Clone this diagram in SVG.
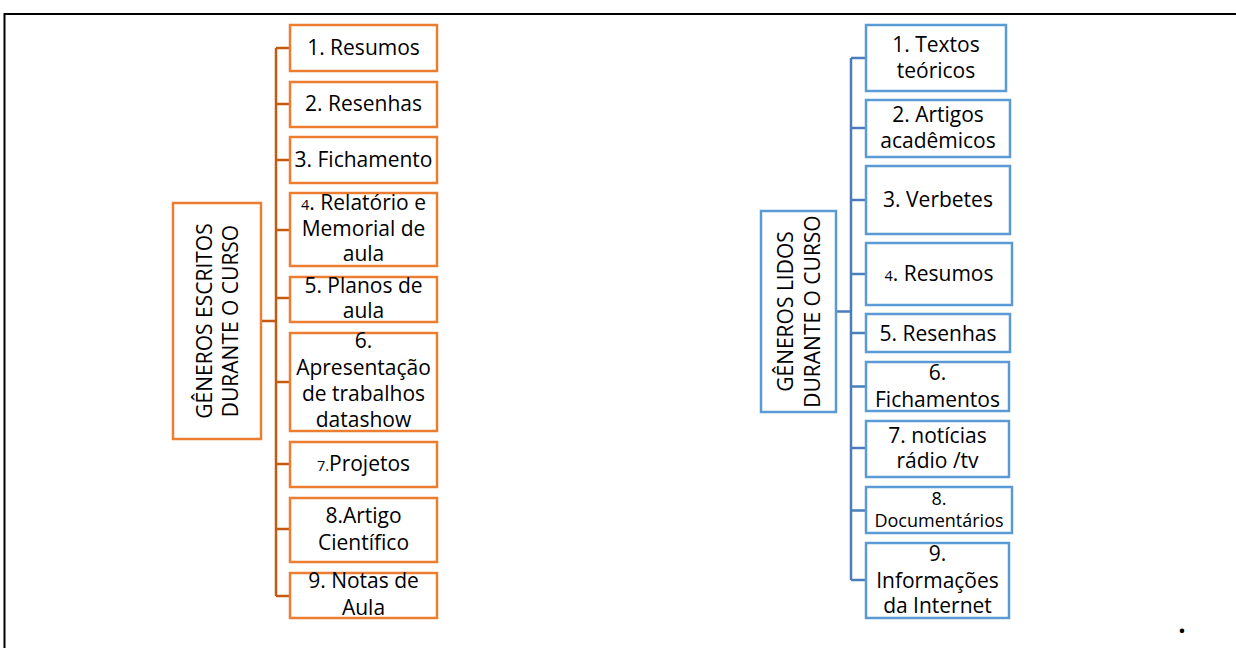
<svg xmlns="http://www.w3.org/2000/svg" width="1236" height="648" viewBox="0 0 1236 648">
<style>
text{font-family:"Open Sans","Noto Sans","Liberation Sans",sans-serif;font-size:21px;fill:#000;text-anchor:middle}
.sm{font-size:14.5px}
.ob{fill:#fff;stroke:#ED7D31;stroke-width:2.5}
.bb{fill:#fff;stroke:#5B9BD5;stroke-width:2.5}
.oc{fill:none;stroke:#C55A11;stroke-width:2.5}
.bc{fill:none;stroke:#4A7EBB;stroke-width:2.5}
</style>
<rect width="1236" height="648" fill="#fff"/>
<path d="M4.5,648 V14 H1236" fill="none" stroke="#000" stroke-width="2"/>
<g id="connectors">
<path class="oc" d="M261,321 H276 M276,48 V596 M276,48 H290 M276,104 H290 M276,160 H290 M276,230 H290 M276,298 H290 M276,382 H290 M276,464 H290 M276,529 H290 M276,596 H290"/>
<path class="bc" d="M836,311.5 H851 M851,58 V580 M851,58 H866 M851,128 H866 M851,200 H866 M851,274 H866 M851,333 H866 M851,386.5 H866 M851,448 H866 M851,510.5 H866 M851,580 H866"/>
</g>
<g id="root-left"><rect class="ob" x="173" y="203" width="88" height="236"/>
<text transform="translate(217,321) rotate(-90)"><tspan x="0" y="-5">GÊNEROS ESCRITOS</tspan><tspan x="0" y="21">DURANTE O CURSO</tspan></text></g>
<g id="l1"><rect class="ob" x="290" y="25" width="147" height="46"/><text x="363.5" y="55">1. Resumos</text></g>
<g id="l2"><rect class="ob" x="290" y="82" width="147" height="45"/><text x="363.5" y="111">2. Resenhas</text></g>
<g id="l3"><rect class="ob" x="290" y="137" width="147" height="46"/><text x="363.5" y="167">3. Fichamento</text></g>
<g id="l4"><rect class="ob" x="290" y="193" width="147" height="73"/><text x="363.5" y="210"><tspan class="sm">4</tspan>. Relatório e</text><text x="363.5" y="236">Memorial de</text><text x="363.5" y="261">aula</text></g>
<g id="l5"><rect class="ob" x="290" y="277" width="147" height="45"/><text x="363.5" y="293">5. Planos de</text><text x="363.5" y="318">aula</text></g>
<g id="l6"><rect class="ob" x="290" y="333" width="147" height="98"/><text x="363.5" y="348">6.</text><text x="363.5" y="375">Apresentação</text><text x="363.5" y="401">de trabalhos</text><text x="363.5" y="427">datashow</text></g>
<g id="l7"><rect class="ob" x="290" y="442" width="147" height="45"/><text x="363.5" y="471"><tspan class="sm">7.</tspan>Projetos</text></g>
<g id="l8"><rect class="ob" x="290" y="498" width="147" height="64"/><text x="363.5" y="523">8.Artigo</text><text x="363.5" y="550">Científico</text></g>
<g id="l9"><rect class="ob" x="290" y="573" width="147" height="45"/><text x="363.5" y="588">9. Notas de</text><text x="363.5" y="615">Aula</text></g>
<g id="root-right"><rect class="bb" x="761" y="211" width="75" height="201"/>
<text transform="translate(798.5,311.5) rotate(-90)"><tspan x="0" y="-5.5">GÊNEROS LIDOS</tspan><tspan x="0" y="21.5">DURANTE O CURSO</tspan></text></g>
<g id="r1"><rect class="bb" x="866" y="25" width="140" height="66"/><text x="936" y="52">1. Textos</text><text x="936" y="78">teóricos</text></g>
<g id="r2"><rect class="bb" x="866" y="100" width="144" height="57"/><text x="938" y="122">2. Artigos</text><text x="938" y="148">acadêmicos</text></g>
<g id="r3"><rect class="bb" x="866" y="166" width="144" height="68"/><text x="938" y="207">3. Verbetes</text></g>
<g id="r4"><rect class="bb" x="866" y="243" width="146" height="62"/><text x="939" y="281"><tspan class="sm">4</tspan>. Resumos</text></g>
<g id="r5"><rect class="bb" x="866" y="314" width="144" height="38"/><text x="938" y="341">5. Resenhas</text></g>
<g id="r6"><rect class="bb" x="866" y="362" width="143" height="49"/><text x="937.5" y="380">6.</text><text x="937.5" y="407">Fichamentos</text></g>
<g id="r7"><rect class="bb" x="866" y="421" width="143" height="56"/><text x="937.5" y="443">7. notícias</text><text x="937.5" y="468">rádio /tv</text></g>
<g id="r8"><rect class="bb" x="866" y="487" width="146" height="46"/><text x="939" y="505" style="font-size:18px">8.</text><text x="939" y="527" style="font-size:18px">Documentários</text></g>
<g id="r9"><rect class="bb" x="866" y="543" width="143" height="75"/><text x="937.5" y="561">9.</text><text x="937.5" y="588">Informações</text><text x="937.5" y="613">da Internet</text></g>
<text x="1182" y="633" style="font-size:26px;font-weight:bold">.</text>
</svg>
